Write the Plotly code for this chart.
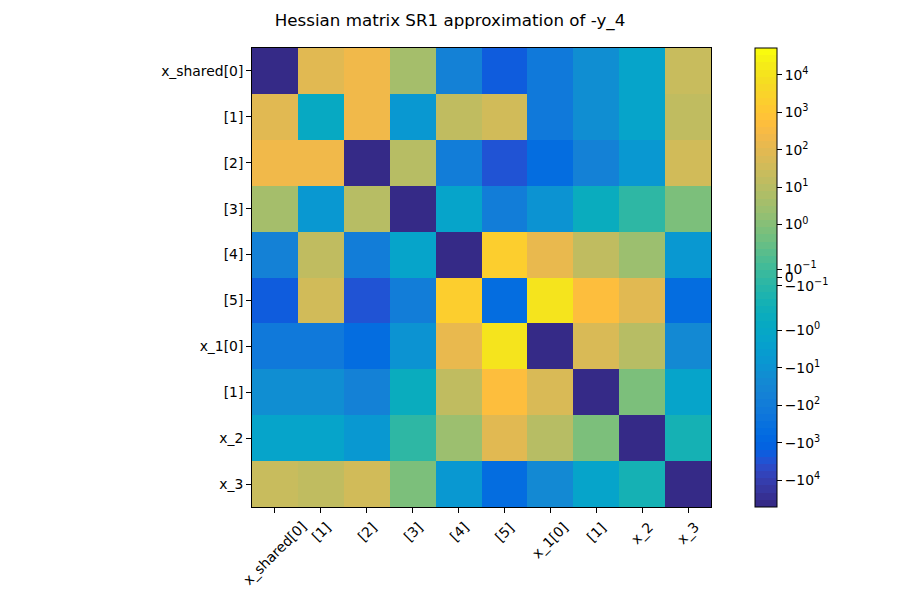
import numpy as np
import plotly.graph_objects as go

# ---------------- data ----------------
labels = ["x_shared[0]", "[1]", "[2]", "[3]", "[4]", "[5]", "x_1[0]", "[1]", "x_2", "x_3"]

row0 = [-52000, 80, 250, 3.5, -63, -1580, -155, -13, -1.8, 20]
row1 = [80, -0.7, 250, -5.4, 13, 32, -150, -13, -2.0, 13]
row2 = [250, 250, -50000, 10, -100, -3600, -470, -50, -6, 30]
row3 = [3.5, -5.4, 10, -51000, -1.8, -80, -8, -0.5, -0.05, 0.7]
row4 = [-63, 13, -100, -1.8, -49000, 1800, 155, 13, 2.5, -7]
row5 = [-1580, 32, -3600, -80, 1800, -500, 11000, 550, 80, -450]
row6 = [-155, -150, -470, -8, 155, 11000, -52000, 60, 11, -25]
row7 = [-13, -13, -50, -0.5, 13, 550, 60, -50000, 0.7, -1.8]
row8 = [-1.8, -2.0, -6, -0.05, 2.5, 80, 11, 0.7, -51000, -0.27]
row9 = [20, 13, 30, 0.7, -7, -450, -25, -1.8, -0.27, -50000]

cbar_tick_values = [1e4, 1e3, 1e2, 1e1, 1e0, 1e-1, 0, -1e-1, -1e0, -1e1, -1e2, -1e3, -1e4]
cbar_tick_text = ["10<sup>4</sup>", "10<sup>3</sup>", "10<sup>2</sup>", "10<sup>1</sup>",
                  "10<sup>0</sup>", "10<sup>\u22121</sup>", "0", "\u221210<sup>\u22121</sup>",
                  "\u221210<sup>0</sup>", "\u221210<sup>1</sup>", "\u221210<sup>2</sup>",
                  "\u221210<sup>3</sup>", "\u221210<sup>4</sup>"]

H = np.array([row0, row1, row2, row3, row4, row5, row6, row7, row8, row9], dtype=float)

# symmetric-log normalisation (linthresh 0.5, linscale 1, base 10)
LINTHRESH = 0.5
LINSCALE_ADJ = 1.0 / (1.0 - 1.0 / 10.0)


def symlog(v):
    v = np.asarray(v, dtype=float)
    a = np.abs(v)
    out = np.where(a < LINTHRESH, a / LINTHRESH * LINSCALE_ADJ,
                   LINSCALE_ADJ + np.log10(np.maximum(a, 1e-300) / LINTHRESH))
    return np.sign(v) * out


Z = symlog(H)
zlim = float(symlog(np.max(np.abs(H))))

# parula colormap (64 levels, stepped like a ListedColormap)
parula = [
    (0.2081, 0.1663, 0.5292), (0.2116, 0.1898, 0.5777), (0.2123, 0.2138, 0.6270), (0.2081, 0.2386, 0.6771),
    (0.1959, 0.2645, 0.7279), (0.1707, 0.2919, 0.7792), (0.1253, 0.3242, 0.8303), (0.0591, 0.3598, 0.8683),
    (0.0117, 0.3875, 0.8820), (0.0060, 0.4086, 0.8828), (0.0165, 0.4266, 0.8786), (0.0329, 0.4430, 0.8720),
    (0.0498, 0.4586, 0.8641), (0.0629, 0.4737, 0.8554), (0.0723, 0.4887, 0.8467), (0.0779, 0.5040, 0.8384),
    (0.0793, 0.5200, 0.8312), (0.0749, 0.5375, 0.8263), (0.0641, 0.5570, 0.8240), (0.0488, 0.5772, 0.8228),
    (0.0343, 0.5966, 0.8199), (0.0265, 0.6137, 0.8135), (0.0239, 0.6287, 0.8038), (0.0231, 0.6418, 0.7913),
    (0.0228, 0.6535, 0.7768), (0.0267, 0.6642, 0.7607), (0.0384, 0.6743, 0.7436), (0.0590, 0.6838, 0.7254),
    (0.0843, 0.6928, 0.7062), (0.1133, 0.7015, 0.6859), (0.1453, 0.7098, 0.6646), (0.1801, 0.7177, 0.6424),
    (0.2178, 0.7250, 0.6193), (0.2586, 0.7317, 0.5954), (0.3022, 0.7376, 0.5712), (0.3482, 0.7424, 0.5473),
    (0.3953, 0.7459, 0.5244), (0.4420, 0.7481, 0.5033), (0.4871, 0.7491, 0.4840), (0.5300, 0.7491, 0.4661),
    (0.5709, 0.7485, 0.4494), (0.6099, 0.7473, 0.4337), (0.6473, 0.7456, 0.4188), (0.6834, 0.7435, 0.4044),
    (0.7184, 0.7411, 0.3905), (0.7525, 0.7384, 0.3768), (0.7858, 0.7356, 0.3633), (0.8185, 0.7327, 0.3498),
    (0.8507, 0.7299, 0.3360), (0.8824, 0.7274, 0.3217), (0.9139, 0.7258, 0.3063), (0.9450, 0.7261, 0.2886),
    (0.9739, 0.7314, 0.2666), (0.9938, 0.7455, 0.2403), (0.9990, 0.7653, 0.2164), (0.9955, 0.7861, 0.1967),
    (0.9880, 0.8066, 0.1794), (0.9789, 0.8271, 0.1633), (0.9697, 0.8481, 0.1475), (0.9626, 0.8705, 0.1309),
    (0.9589, 0.8949, 0.1132), (0.9598, 0.9218, 0.0948), (0.9661, 0.9514, 0.0755), (0.9763, 0.9831, 0.0538),
]
N = len(parula)
colorscale = []
for i, (r, g, b) in enumerate(parula):
    c = f"rgb({round(r*255)},{round(g*255)},{round(b*255)})"
    colorscale.append([i / N, c])
    colorscale.append([(i + 1) / N, c])

FONT = "DejaVu Sans"
TICK_SIZE = 13.9
TICK_LEN = 4.9
TICK_W = 1.1
n = len(labels)
idx = list(range(n))

fig = go.Figure(go.Heatmap(
    z=Z, x=idx, y=idx,
    zmin=-zlim, zmax=zlim,
    colorscale=colorscale,
    colorbar=dict(
        x=(755 - 252) / 459, xanchor="left", xref="paper",
        y=0.5, yanchor="middle", len=1.0, lenmode="fraction",
        xpad=0, ypad=0,
        thickness=22, thicknessmode="pixels",
        outlinecolor="black", outlinewidth=1,
        tickmode="array",
        tickvals=[float(v) for v in symlog(cbar_tick_values)],
        ticktext=cbar_tick_text,
        ticks="outside", ticklen=TICK_LEN, tickwidth=TICK_W, tickcolor="black",
        tickfont=dict(family=FONT, size=TICK_SIZE, color="black"),
    ),
    hoverinfo="skip",
))

axis_common = dict(
    showgrid=False, zeroline=False,
    showline=True, linecolor="black", linewidth=1, mirror=True,
    ticks="outside", ticklen=TICK_LEN, tickwidth=TICK_W, tickcolor="black",
    tickfont=dict(family=FONT, size=TICK_SIZE, color="black"),
    tickmode="array", tickvals=idx,
)

# x tick labels: rotated 45 deg, centred under each tick (matplotlib-style)
annotations = [
    dict(x=i, y=0, xref="x", yref="paper", text=lab, showarrow=False,
         textangle=-45, xanchor="center", yanchor="top", yshift=-9,
         font=dict(family=FONT, size=TICK_SIZE, color="black"))
    for i, lab in zip(idx, labels)
]

fig.update_layout(
    width=900, height=600,
    margin=dict(l=252, r=189, t=48, b=93),
    paper_bgcolor="white", plot_bgcolor="white",
    title=dict(text="Hessian matrix SR1 approximation of -y_4",
               x=0.5, xref="container", xanchor="center",
               y=1 - 20 / 600, yref="container", yanchor="middle",
               font=dict(family=FONT, size=16.7, color="black")),
    xaxis=dict(range=[-0.5, n - 0.5], ticktext=[""] * n, **axis_common),
    yaxis=dict(range=[n - 0.5, -0.5], ticktext=labels, **axis_common),
    annotations=annotations,
)

fig.write_html("out.html")
